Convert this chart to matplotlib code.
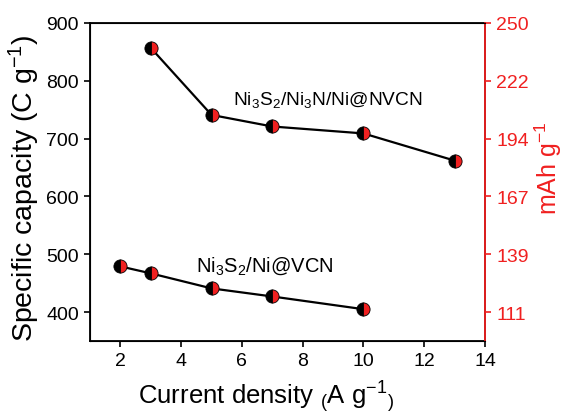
import matplotlib.pyplot as plt

plt.rcParams['font.family'] = ['Liberation Sans', 'DejaVu Sans']
plt.rcParams['mathtext.fontset'] = 'custom'
plt.rcParams['mathtext.rm'] = 'Liberation Sans'
plt.rcParams['mathtext.it'] = 'Liberation Sans'

# Ni3S2/Ni3N/Ni@NVCN
x_nvcn = [3, 5, 7, 10, 13]
cap_nvcn = [857, 741, 721, 709, 662]

# Ni3S2/Ni@VCN
x_vcn = [2, 3, 5, 7, 10]
cap_vcn = [479, 467, 441, 427, 405]

left_ticks = [400, 500, 600, 700, 800, 900]
red = '#f02020'

fig = plt.figure(figsize=(5.65, 4.14), dpi=100)
ax = fig.add_axes([90 / 565, 1 - 342 / 414, 395 / 565, 318 / 414])

style = dict(color='black', lw=1.6, marker='o', ms=9.5, fillstyle='left',
             markerfacecolor='black', markerfacecoloralt=red,
             markeredgecolor='black', markeredgewidth=0.6)
ax.plot(x_nvcn, cap_nvcn, **style)
ax.plot(x_vcn, cap_vcn, **style)

ax.text(5.7, 760, r'Ni$_3$S$_2$/Ni$_3$N/Ni@NVCN', fontsize=13.8)
ax.text(4.5, 472, r'Ni$_3$S$_2$/Ni@VCN', fontsize=14.5)

ax.set_xlim(1, 14)
ax.set_ylim(350, 900)
ax.set_xticks([2, 4, 6, 8, 10, 12, 14])
ax.set_yticks(left_ticks)
ax.tick_params(direction='out', length=4, width=1.2, labelsize=14, pad=4)
for s in ax.spines.values():
    s.set_linewidth(1.3)

ax2 = ax.twinx()
ax2.set_ylim(350, 900)
ax2.set_yticks(left_ticks)
ax2.set_yticklabels([str(round(v / 3.6)) for v in left_ticks])
ax2.tick_params(direction='out', length=4, width=1.2, labelsize=14,
                colors=red, pad=4)
ax2.spines['right'].set_color(red)
ax2.spines['right'].set_linewidth(1.3)

# axis titles placed on the figure
fig.text(24 / 565, 1 - 188 / 414, 'Specific capacity (C g$^{-1}$)',
         rotation=90, ha='center', va='center', fontsize=20.5)
fig.text(266 / 565, 1 - 404 / 414,
         'Current density ' + r'$_($' + 'A g' + r'$^{-1}$' + r'$_)$',
         ha='center', va='baseline', fontsize=18.5)
fig.text(548 / 565, 1 - 168 / 414, 'mAh g$^{-1}$', rotation=90,
         ha='center', va='center', fontsize=18, color=red)

fig.savefig('out.png', dpi=100)
